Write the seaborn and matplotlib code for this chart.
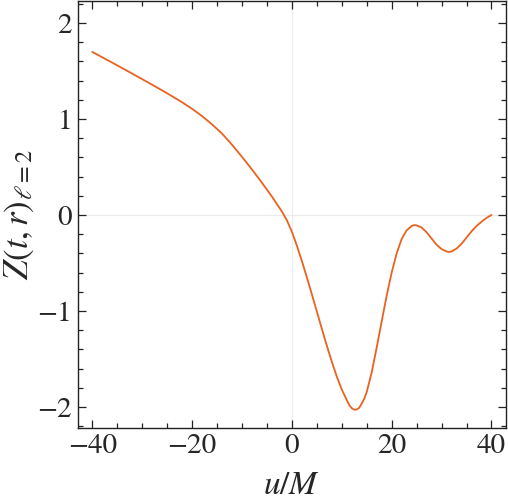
import matplotlib
matplotlib.use("Agg")
import matplotlib.pyplot as plt
import seaborn as sns
from matplotlib.ticker import MultipleLocator

# values
u_vals = [-40, -38, -36, -34, -32, -30, -28, -26, -24, -22, -20, -18, -16,
          -14, -12, -10, -8, -6, -4, -2, -1, 0, 1, 2, 3, 4, 5, 6, 7, 8, 9,
          10, 11, 11.5, 12, 12.5, 13, 13.5, 14, 14.5, 15, 16, 17, 18, 19, 20,
          21, 22, 23, 24, 24.5, 25, 26, 27, 28, 29, 30, 31, 31.5, 32, 33, 34,
          35, 36, 37, 38, 39, 40]
z_vals = [1.700, 1.644, 1.588, 1.531, 1.474, 1.416, 1.358, 1.299, 1.238,
          1.175, 1.107, 1.031, 0.945, 0.849, 0.733, 0.607, 0.475, 0.337,
          0.193, 0.037, -0.055, -0.173, -0.318, -0.478, -0.648, -0.824,
          -1.004, -1.184, -1.360, -1.528, -1.683, -1.818, -1.928, -1.980,
          -2.013, -2.029, -2.027, -2.008, -1.965, -1.915, -1.845, -1.640,
          -1.380, -1.110, -0.840, -0.600, -0.400, -0.250, -0.160, -0.115,
          -0.105, -0.108, -0.130, -0.180, -0.245, -0.310, -0.355, -0.380,
          -0.385, -0.380, -0.350, -0.300, -0.235, -0.170, -0.115, -0.070,
          -0.030, 0.000]

sns.set_style("ticks")
plt.rcParams['font.family'] = ['STIXGeneral', 'Liberation Serif', 'DejaVu Serif']
plt.rcParams['mathtext.fontset'] = 'stix'

fig = plt.figure(figsize=(5.08, 5.03), dpi=100)
ax = fig.add_axes([0.153, 0.149, 0.843, 0.849])

ax.axhline(0, color='#EBEBEB', lw=0.8, zorder=0)
ax.axvline(0, color='#EBEBEB', lw=0.8, zorder=0)
sns.lineplot(x=u_vals, y=z_vals, color='#E9621F', lw=1.3, ax=ax)
ax.lines[-1].set_solid_joinstyle('round')

ax.set_xlim(-42.9, 42.9)
ax.set_ylim(-2.22, 2.23)
ax.xaxis.set_major_locator(MultipleLocator(20))
ax.xaxis.set_minor_locator(MultipleLocator(5))
ax.yaxis.set_major_locator(MultipleLocator(1))
ax.yaxis.set_minor_locator(MultipleLocator(0.2))
ax.tick_params(which='both', direction='in', top=True, right=True,
               labelsize=21, width=0.9, color='#222222', pad=4)
ax.tick_params(which='major', length=6)
ax.tick_params(which='minor', length=3.5)
for s in ax.spines.values():
    s.set_linewidth(1.0)
    s.set_color('#222222')

ax.set_xlabel(r'$u/M$', fontsize=24, labelpad=9)
ax.set_ylabel(r'$Z(t,r)_{\ell=2}$', fontsize=25, labelpad=1)

fig.savefig('out.png', dpi=100)
